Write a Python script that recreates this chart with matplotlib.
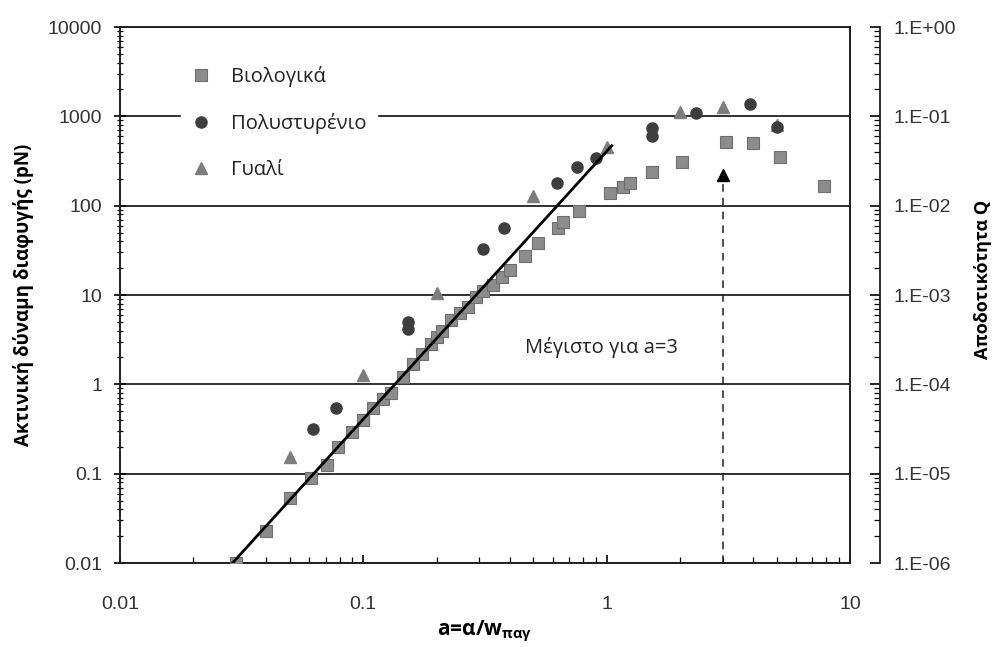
import numpy as np
import matplotlib
matplotlib.use("Agg")
from matplotlib import pyplot as plt
from matplotlib.ticker import LogLocator, FixedLocator, FixedFormatter, NullFormatter

# data
bio_x = [0.03, 0.04, 0.05, 0.061, 0.071, 0.079, 0.09, 0.10, 0.11, 0.12, 0.13, 0.145,
         0.16, 0.175, 0.19, 0.20, 0.21, 0.23, 0.25, 0.27, 0.29, 0.31, 0.34, 0.37, 0.40,
         0.46, 0.52, 0.63, 0.66, 0.77, 1.03, 1.17, 1.25, 1.54, 2.04, 3.1, 4.0, 5.15, 7.8]
bio_y = [0.01, 0.023, 0.053, 0.09, 0.125, 0.2, 0.29, 0.4, 0.54, 0.68, 0.8, 1.2,
         1.7, 2.2, 2.8, 3.4, 4.0, 5.2, 6.3, 7.3, 9.5, 11, 13, 16, 19,
         27, 38, 57, 65, 87, 138, 161, 179, 238, 305, 510, 500, 350, 165]

poly_x = [0.062, 0.077, 0.153, 0.153, 0.31, 0.38, 0.625, 0.755, 0.9, 1.54, 1.54, 2.33, 3.9, 5.0]
poly_y = [0.32, 0.54, 4.2, 5.0, 33, 56, 179, 270, 340, 600, 750, 1090, 1370, 760]

glass_x = [0.05, 0.1, 0.2, 0.5, 1.0, 2.0, 3.0, 5.0]
glass_y = [0.155, 1.27, 10.5, 130, 450, 1120, 1260, 800]

fit_x = [0.029, 1.05]
fit_y = [0.01, 470]

max_x = 3.0
max_y = 220

left_ticks = [0.01, 0.1, 1, 10, 100, 1000, 10000]
left_labels = ["0.01", "0.1", "1", "10", "100", "1000", "10000"]
bottom_ticks = [0.01, 0.1, 1, 10]
bottom_labels = ["0.01", "0.1", "1", "10"]
right_ticks = [1e-6, 1e-5, 1e-4, 1e-3, 1e-2, 1e-1, 1]
right_labels = ["1.E-06", "1.E-05", "1.E-04", "1.E-03", "1.E-02", "1.E-01", "1.E+00"]

txt_font = ["Open Sans", "DejaVu Sans"]
num_font = ["Liberation Sans Narrow", "Liberation Sans", "DejaVu Sans"]
plt.rcParams['font.family'] = txt_font
plt.rcParams['mathtext.fontset'] = 'custom'
plt.rcParams['mathtext.rm'] = 'Open Sans'
plt.rcParams['mathtext.bf'] = 'Open Sans:bold'

fig = plt.figure(figsize=(9.94, 6.47), dpi=100)
ax = fig.add_axes([0.1207, 0.1298, 0.7344, 0.8284])
ax.set_xscale('log')
ax.set_yscale('log')
ax.set_xlim(0.01, 10)
ax.set_ylim(0.01, 10000)

# horizontal grid lines at decades
for v in left_ticks:
    ax.axhline(v, color='#202020', lw=1.3, zorder=1)

# points
ax.plot(bio_x, bio_y, 's', ms=8.5, color='#8c8c8c', mec='#6e6e6e', mew=0.8, zorder=3, label='Βιολογικά')
ax.plot(poly_x, poly_y, 'o', ms=8, color='#3d3d3d', mec='#3d3d3d', zorder=4, label='Πολυστυρένιο')
ax.plot(glass_x, glass_y, '^', ms=9, color='#7d7d7d', mec='#7d7d7d', zorder=3, label='Γυαλί')
ax.plot(fit_x, fit_y, '-', color='black', lw=2, zorder=5)

# maximum marker with dashed drop line
ax.plot([max_x, max_x], [0.01, max_y], '--', color='#202020', lw=1.1, dashes=(5, 4), zorder=2)
ax.plot([max_x], [max_y], '^', ms=8, color='black', zorder=5)
ax.text(0.46, 2.6, 'Μέγιστο για a=3', fontsize=14.5, va='center', ha='left', color='#222222')

# legend
leg = ax.legend(loc='upper left', bbox_to_anchor=(0.07, 0.965), frameon=True, fontsize=14.5,
                handletextpad=1.0, labelspacing=1.3, borderpad=0.5, handlelength=1.0)
leg.get_frame().set_edgecolor('white')
leg.get_frame().set_facecolor('white')
leg.get_frame().set_alpha(1)
leg.set_zorder(6)
for t in leg.get_texts():
    t.set_color('#222222')

# ticks
ax.yaxis.set_major_locator(FixedLocator(left_ticks))
ax.yaxis.set_major_formatter(FixedFormatter(left_labels))
ax.yaxis.set_minor_locator(LogLocator(base=10, subs=np.arange(2, 10)))
ax.yaxis.set_minor_formatter(NullFormatter())
ax.xaxis.set_major_locator(FixedLocator(bottom_ticks))
ax.xaxis.set_major_formatter(FixedFormatter(bottom_labels))
ax.xaxis.set_minor_locator(LogLocator(base=10, subs=np.arange(2, 10)))
ax.xaxis.set_minor_formatter(NullFormatter())
ax.tick_params(axis='y', which='major', direction='inout', length=8, width=1.2, pad=9, labelsize=14)
ax.tick_params(axis='y', which='minor', direction='inout', length=4, width=0.9)
ax.tick_params(axis='x', which='major', direction='in', length=6, width=1.2, pad=24, labelsize=14)
ax.tick_params(axis='x', which='minor', direction='in', length=4, width=0.9)
for lab in ax.get_xticklabels() + ax.get_yticklabels():
    lab.set_family(num_font)
    lab.set_color('#333333')
for s in ax.spines.values():
    s.set_color('#202020')
    s.set_linewidth(1.4)

ax.set_ylabel('Ακτινική δύναμη διαφυγής (pN)', fontsize=13.5, fontweight='bold', labelpad=10)
ax.set_xlabel(r'a=α/w$_{\mathbf{παγ}}$', fontsize=15, fontweight='bold', labelpad=4)

# right axis for efficiency Q
ax2 = ax.twinx()
ax2.set_yscale('log')
ax2.set_ylim(1e-6, 1)
ax2.spines['right'].set_position(('outward', 21.6))
ax2.spines['right'].set_color('#202020')
ax2.spines['right'].set_linewidth(1.3)
for k in ('top', 'bottom', 'left'):
    ax2.spines[k].set_visible(False)
ax2.yaxis.set_major_locator(FixedLocator(right_ticks))
ax2.yaxis.set_major_formatter(FixedFormatter(right_labels))
ax2.yaxis.set_minor_locator(LogLocator(base=10, subs=np.arange(2, 10)))
ax2.yaxis.set_minor_formatter(NullFormatter())
ax2.tick_params(axis='y', which='major', direction='in', length=7, width=1.2, pad=10, labelsize=14)
ax2.tick_params(axis='y', which='minor', direction='in', length=4, width=0.9)
for lab in ax2.get_yticklabels():
    lab.set_family(num_font)
    lab.set_color('#333333')
ax2.set_ylabel('Αποδοτικότητα Q', fontsize=13, fontweight='bold', labelpad=6)
ax2.yaxis.set_label_coords(1.17, 0.53)

fig.savefig('out.png', dpi=100)
